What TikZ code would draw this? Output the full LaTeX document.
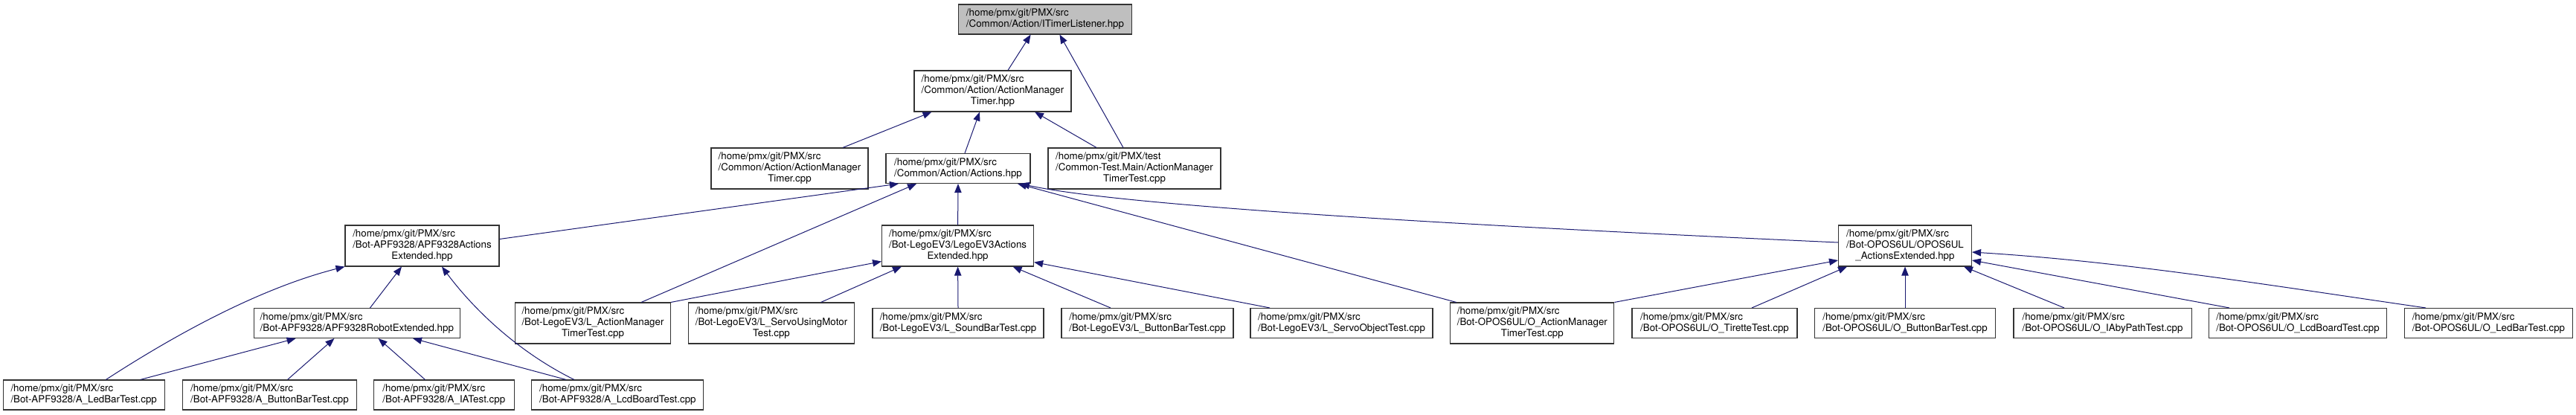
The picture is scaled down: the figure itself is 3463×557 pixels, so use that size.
\documentclass[tikz,border=0pt]{standalone}
\usepackage{fontspec}
\setmainfont{TeX Gyre Heros}
\usetikzlibrary{arrows.meta,calc}
\definecolor{xanhdam}{HTML}{191970}
\newcommand{\haidong}[2]{\begin{tabular}{@{}l@{}}#1\\#2\end{tabular}}
\newcommand{\badong}[3]{\begin{tabular}{@{}l@{}}#1\\#2\\\multicolumn{1}{@{}c@{}}{#3}\end{tabular}}
\begin{document}
\begin{tikzpicture}[x=0.75pt,y=-0.75pt,>={Triangle[length=9pt,width=7pt]},font=\fontsize{10}{11.25}\selectfont]
	\tikzset{hop/.style={draw=black!80,line width=0.8pt,fill=white,inner sep=0pt,minimum width=#1*0.75pt},
		hai/.style={hop=#1,minimum height=30pt},
		ba/.style={hop=#1,minimum height=41.25pt},
		goc/.style={hai=#1,fill=black!25},
		canh/.style={->,draw=xanhdam,line width=0.75pt}}
	\useasboundingbox (0,0) rectangle (3463,557);
	
	% Cấp 0: tệp gốc
	\path (1405,26) node[goc=233] (itimer) {\haidong{/home/pmx/git/PMX/src}{/Common/Action/ITimerListener.hpp}}
	
	% Cấp 1
	(1334.5,122.5) node[ba=211] (amth) {\badong{/home/pmx/git/PMX/src}{/Common/Action/ActionManager}{Timer.hpp}}
	
	% Cấp 2
	(1061.5,226.5) node[ba=211] (amtcpp) {\badong{/home/pmx/git/PMX/src}{/Common/Action/ActionManager}{Timer.cpp}}
	(1288,226.5) node[hai=194] (actions) {\haidong{/home/pmx/git/PMX/src}{/Common/Action/Actions.hpp}}
	(1525,226.5) node[ba=232] (amttest) {\badong{/home/pmx/git/PMX/test}{/Common-Test.Main/ActionManager}{TimerTest.cpp}}
	
	% Cấp 3
	(567.5,330.5) node[ba=207] (apfext) {\badong{/home/pmx/git/PMX/src}{/Bot-APF9328/APF9328Actions}{Extended.hpp}}
	(1287.6,330.5) node[ba=204] (legoext) {\badong{/home/pmx/git/PMX/src}{/Bot-LegoEV3/LegoEV3Actions}{Extended.hpp}}
	(2561,330.5) node[ba=179] (oposext) {\badong{/home/pmx/git/PMX/src}{/Bot-OPOS6UL/OPOS6UL}{\_ActionsExtended.hpp}}
	
	% Cấp 4
	(479.8,434.5) node[hai=277.5] (apfrobot) {\haidong{/home/pmx/git/PMX/src}{/Bot-APF9328/APF9328RobotExtended.hpp}}
	(797,434.5) node[ba=208.6] (lamt) {\badong{/home/pmx/git/PMX/src}{/Bot-LegoEV3/L\_ActionManager}{TimerTest.cpp}}
	(1037,434.5) node[ba=223] (lservomotor) {\badong{/home/pmx/git/PMX/src}{/Bot-LegoEV3/L\_ServoUsingMotor}{Test.cpp}}
	(1288,434.5) node[hai=230] (lsound) {\haidong{/home/pmx/git/PMX/src}{/Bot-LegoEV3/L\_SoundBarTest.cpp}}
	(1542.5,434.5) node[hai=231] (lbutton) {\haidong{/home/pmx/git/PMX/src}{/Bot-LegoEV3/L\_ButtonBarTest.cpp}}
	(1803.5,434.5) node[hai=245] (lservoobj) {\haidong{/home/pmx/git/PMX/src}{/Bot-LegoEV3/L\_ServoObjectTest.cpp}}
	(2059.8,434.5) node[ba=220] (oamt) {\badong{/home/pmx/git/PMX/src}{/Bot-OPOS6UL/O\_ActionManager}{TimerTest.cpp}}
	(2305,434.5) node[hai=222] (otirette) {\haidong{/home/pmx/git/PMX/src}{/Bot-OPOS6UL/O\_TiretteTest.cpp}}
	(2561,434.5) node[hai=243] (obutton) {\haidong{/home/pmx/git/PMX/src}{/Bot-OPOS6UL/O\_ButtonBarTest.cpp}}
	(2826.5,434.5) node[hai=239] (oiaby) {\haidong{/home/pmx/git/PMX/src}{/Bot-OPOS6UL/O\_IAbyPathTest.cpp}}
	(3089,434.5) node[hai=239] (olcd) {\haidong{/home/pmx/git/PMX/src}{/Bot-OPOS6UL/O\_LcdBoardTest.cpp}}
	(3345.4,434.5) node[hai=226] (oled) {\haidong{/home/pmx/git/PMX/src}{/Bot-OPOS6UL/O\_LedBarTest.cpp}}
	
	% Cấp 5
	(112.7,531) node[hai=217] (aled) {\haidong{/home/pmx/git/PMX/src}{/Bot-APF9328/A\_LedBarTest.cpp}}
	(362.5,531) node[hai=234] (abutton) {\haidong{/home/pmx/git/PMX/src}{/Bot-APF9328/A\_ButtonBarTest.cpp}}
	(596.8,531) node[hai=189] (aia) {\haidong{/home/pmx/git/PMX/src}{/Bot-APF9328/A\_IATest.cpp}}
	(830.4,531) node[hai=231] (alcd) {\haidong{/home/pmx/git/PMX/src}{/Bot-APF9328/A\_LcdBoardTest.cpp}};
	
	% Các mũi tên về tệp gốc
	\draw[canh] ($(amth.north)+(20.5,0)$) -- ($(itimer.south)+(-19.4,0)$);
	\draw[canh] ($(amttest.north)+(-15,0)$) -- ($(itimer.south)+(19.5,0)$);
	
	% Về ActionManagerTimer.hpp
	\draw[canh] ($(amtcpp.north)+(71.5,0)$) -- ($(amth.south)+(-82,0)$);
	\draw[canh] ($(actions.north)+(9,0)$) -- ($(amth.south)+(-17.5,0)$);
	\draw[canh] ($(amttest.north)+(-51,0)$) -- ($(amth.south)+(56.5,0)$);
	
	% Về Actions.hpp
	\draw[canh] ($(apfext.east)+(0,-9)$) -- ($(actions.south)+(-80,0)$);
	\draw[canh] ($(lamt.north)+(65,0)$) -- ($(actions.south)+(-56,0)$);
	\draw[canh] (legoext.north) -- (actions.south);
	\draw[canh] ($(oamt.north)+(-102,0)$) -- ($(actions.south)+(80,0)$);
	\draw[canh] ($(oposext.west)+(0,-4.5)$) .. controls (1900,300) and (1500,275) .. ($(actions.south)+(84,0)$);
	
	% Nhánh APF9328
	\draw[canh] ($(apfrobot.north)+(17.7,0)$) -- ($(apfext.south)+(-27.5,0)$);
	\draw[canh] ($(aled.north)+(29.7,0)$) .. controls (220,460) and (340,390) .. (apfext.south west);
	\draw[canh] ($(alcd.north)+(-58.4,0)$) .. controls (700,475) and (640,420) .. ($(apfext.south)+(26.5,0)$);
	\draw[canh] ($(aled.north)+(75.9,0)$) -- ($(apfrobot.south)+(-82.2,0)$);
	\draw[canh] ($(abutton.north)+(24,0)$) -- ($(apfrobot.south)+(-30.4,0)$);
	\draw[canh] ($(aia.north)+(-25.3,0)$) -- ($(apfrobot.south)+(28.8,0)$);
	\draw[canh] ($(alcd.north)+(-69.4,0)$) -- ($(apfrobot.south)+(75.2,0)$);
	
	% Nhánh LegoEV3
	\draw[canh] (lamt.north east) -- ($(legoext.west)+(0,21)$);
	\draw[canh] ($(lservomotor.north)+(66.5,0)$) -- ($(legoext.south)+(-75.6,0)$);
	\draw[canh] (lsound.north) -- (legoext.south);
	\draw[canh] ($(lbutton.north)+(-49.5,0)$) -- ($(legoext.south)+(74,0)$);
	\draw[canh] ($(lservoobj.north)+(-96.5,0)$) -- ($(legoext.east)+(0,22)$);
	
	% Nhánh OPOS6UL
	\draw[canh] (oamt.north east) -- ($(oposext.west)+(0,19.5)$);
	\draw[canh] ($(otirette.north)+(50,0)$) -- ($(oposext.south)+(-78,0)$);
	\draw[canh] (obutton.north) -- (oposext.south);
	\draw[canh] ($(oiaby.north)+(-51.5,0)$) -- ($(oposext.south)+(79,0)$);
	\draw[canh] ($(olcd.north)+(-92,0)$) -- ($(oposext.east)+(0,19.5)$);
	\draw[canh] ($(oled.north)+(-84.4,0)$) .. controls (3060,385) and (2860,352) .. ($(oposext.east)+(0,8.5)$);
\end{tikzpicture}
\end{document}
